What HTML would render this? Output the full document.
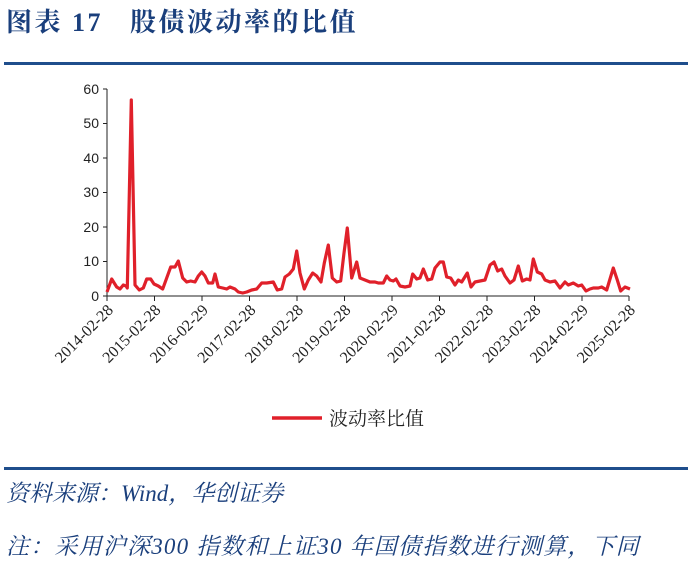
<!DOCTYPE html>
<html><head><meta charset="utf-8"><style>
body{margin:0;width:691px;height:564px;background:#fff;overflow:hidden;position:relative;font-family:"Liberation Serif","Noto Serif CJK SC",serif}
.t{position:absolute;left:6px;top:2px;font-size:26px;font-weight:bold;color:#1a3f7c;font-family:"Liberation Serif","Noto Serif CJK SC",serif;letter-spacing:2.5px}
.hl{position:absolute;left:4px;width:684px;height:3px;background:#1f4e8c}
.f{position:absolute;left:6px;font-size:23px;font-style:italic;color:#1a3f7c;font-family:"Liberation Serif","Noto Serif CJK SC",serif}
</style></head><body>
<div class="t">图表 17&nbsp;&nbsp; 股债波动率的比值</div>
<div class="hl" style="top:62px"></div>
<svg width="691" height="564" style="position:absolute;left:0;top:0">
<g font-family="Liberation Sans, sans-serif" font-size="14" fill="#222" text-anchor="end">
<text x="99" y="301">0</text><text x="99" y="266">10</text><text x="99" y="232">20</text><text x="99" y="197">30</text><text x="99" y="163">40</text><text x="99" y="128">50</text><text x="99" y="94">60</text>
</g>
<g stroke="#222" stroke-width="1" fill="none">
<path d="M107 89V296H629"/>
<path d="M103 89H107M103 123.5H107M103 158H107M103 192.5H107M103 227H107M103 261.5H107M103 296H107"/>
<path d="M107 296v5M154.5 296v5M202 296v5M249.5 296v5M297 296v5M344.5 296v5M392 296v5M439.5 296v5M487 296v5M534.5 296v5M582 296v5M629 296v5"/>
</g>
<g font-family="Liberation Serif, serif" font-size="16" fill="#222" text-anchor="end">
<text transform="translate(114,311) rotate(-45)">2014-02-28</text>
<text transform="translate(161.5,311) rotate(-45)">2015-02-28</text>
<text transform="translate(209,311) rotate(-45)">2016-02-29</text>
<text transform="translate(256.5,311) rotate(-45)">2017-02-28</text>
<text transform="translate(304,311) rotate(-45)">2018-02-28</text>
<text transform="translate(351.5,311) rotate(-45)">2019-02-28</text>
<text transform="translate(399,311) rotate(-45)">2020-02-29</text>
<text transform="translate(446.5,311) rotate(-45)">2021-02-28</text>
<text transform="translate(494,311) rotate(-45)">2022-02-28</text>
<text transform="translate(541.5,311) rotate(-45)">2023-02-28</text>
<text transform="translate(589,311) rotate(-45)">2024-02-29</text>
<text transform="translate(636,311) rotate(-45)">2025-02-28</text>
</g>
<polyline fill="none" stroke="#e0202a" stroke-width="3.2" stroke-linejoin="round" points="107,292 111.7,279 116.7,287 120,289 123.3,285 126,286 127.3,288 131.3,100 135,285 139.3,290 143.3,288 146.7,279 150.7,279 154,284 158.3,286 162.7,289 166.7,278 170.7,267 175,267 178.3,261 182.7,278 186.7,282 190.7,281 195,282 198.3,276 201.7,272 205,276 208.3,283 212.7,283 215,274 218.3,287 222.7,288 226.7,289 230,287 235,289 238.3,292 242.7,293 246.7,292 251.7,290 256.7,289 261.7,283 266.7,283 273.3,282 277.3,290 281.7,289 285,277 289.3,274 293.3,269 296.7,251 300,273 304.3,289 308.3,280 312.7,273 316.7,276 321,282 324.3,263 328.3,245 332.3,278 336.7,282 340.7,281 344,253 347.3,228 351.7,278 356.7,262 360,278 365,280 370,282 375,282 378.3,283 383.3,283 386.7,276 390,280 393.3,281 396,279 400,286 405,287 410,286 412.7,274 416.7,279 420,278 423.3,269 427.7,280 431.7,279 435,268 440,262 443.3,262 446.7,277 450.7,278 455,285 458.3,280 461.7,282 467.3,273 471,287 475,282 480,281 485,280 490,265 494,262 497.7,271 501.7,269 505,276 510,283 514,280 518.3,266 522.3,281 526.7,279 530,280 533.3,259 537.3,272 541.7,274 545,280 550,282 555,281 560,288 565,282 568.3,285 573.3,283 578.3,286 581.7,285 586,291 590,289 593.3,288 598.3,288 601.7,287 606.7,290 613.3,268 617.3,280 620.7,291 625,287 630,289"/>
<line x1="272" y1="418" x2="322" y2="418" stroke="#e0202a" stroke-width="3.5"/>
<text x="329" y="425" font-family="Liberation Serif, Noto Serif CJK SC, serif" font-size="19" fill="#222">波动率比值</text>
</svg>
<div class="hl" style="top:467px"></div>
<div class="f" style="top:475px">资料来源：Wind，华创证券</div>
<div class="f" style="top:528px;letter-spacing:1.2px">注：采用沪深300 指数和上证30 年国债指数进行测算，下同</div>
</body></html>
